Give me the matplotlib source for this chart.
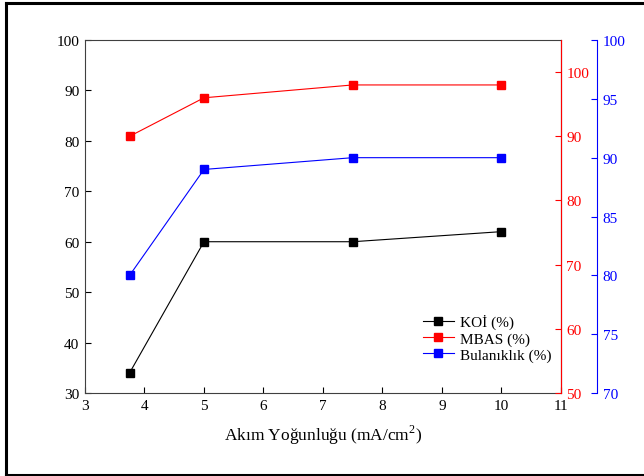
import matplotlib.pyplot as plt
from matplotlib.lines import Line2D

plt.rcParams["font.family"] = ["Liberation Serif", "DejaVu Serif"]
plt.rcParams["mathtext.fontset"] = "custom"
plt.rcParams["mathtext.rm"] = "Liberation Serif"

akim = [3.75, 5, 7.5, 10]
koi = [34, 60, 60, 62]
mbas = [90, 96, 98, 98]
bulaniklik = [80, 89, 90, 90]

fig = plt.figure(figsize=(6.44, 4.77), dpi=100)
ax = fig.add_axes([0.132, 0.174, 0.739, 0.740])
ax2 = ax.twinx()
ax3 = ax.twinx()
ax3.spines["right"].set_position(("axes", 1.0757))

l1, = ax.plot(akim, koi, color="black", lw=0.8, marker="s", ms=6, label="KOİ (%)")
l2, = ax2.plot(akim, mbas, color="red", lw=0.8, marker="s", ms=6, label="MBAS (%)")
l3, = ax3.plot(akim, bulaniklik, color="blue", lw=0.8, marker="s", ms=6, label="Bulanıklık (%)")

ax.set_xlim(3, 11)
ax.set_ylim(30, 100)
ax.set_xticks(range(3, 12))
ax.set_yticks(range(30, 101, 10))
ax2.set_ylim(50, 105)
ax2.set_yticks(range(50, 101, 10))
ax3.set_ylim(70, 100)
ax3.set_yticks(range(70, 101, 5))

for a in (ax, ax2, ax3):
    a.tick_params(direction="in", length=4, width=0.8, labelsize=11, pad=4)
for s in ("left", "bottom", "top"):
    ax.spines[s].set_color("#404040")
ax2.spines["right"].set_color("red")
ax2.tick_params(axis="y", colors="red")
ax3.spines["right"].set_color("blue")
ax3.tick_params(axis="y", colors="blue")
for a in (ax2, ax3):
    for s in ("left", "bottom", "top"):
        a.spines[s].set_visible(False)

ax.set_xlabel("Akım Yoğunluğu (mA/cm$^2$)", fontsize=12.5, labelpad=8)

fig.legend(handles=[l1, l2, l3], loc="upper left", bbox_to_anchor=(0.645, 0.355),
           frameon=False, fontsize=11, handlelength=2.0, handletextpad=0.4,
           labelspacing=0.15, borderpad=0)

# page frame (left, top, bottom edges)
for xs, ys in (([0.009, 0.009], [0.003, 0.991]),
               ([0.009, 1.0], [0.991, 0.991]),
               ([0.009, 1.0], [0.003, 0.003])):
    fig.lines.append(Line2D(xs, ys, transform=fig.transFigure, color="black", lw=2.2))

fig.savefig("out.png", dpi=100)
